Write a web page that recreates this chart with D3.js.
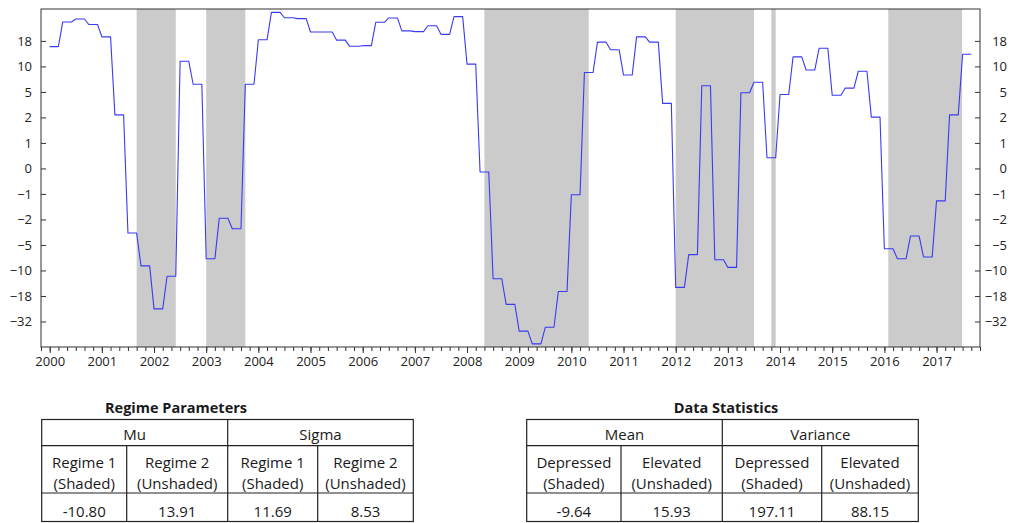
<!DOCTYPE html>
<html>
<head>
<meta charset="utf-8">
<script src="https://cdn.jsdelivr.net/npm/d3@7"></script>
<style>
  body { margin: 0; background: #fff; }
  svg { font-family: "Open Sans", sans-serif; }
</style>
</head>
<body>
<svg id="chart" width="1024" height="523"></svg>
<script>
// quarterly readings, first quarter of 2000 to third quarter of 2017
const startYear = 2000
const values = [
  16.2, 28.4, 30.0, 27.0,
  20.2, 2.3, -3.6, -9.1,
  -25.1, -11.8, 11.6, 6.5,
  -7.7, -1.95, -3.1, 6.5,
  18.6, 35.8, 30.7, 30.2,
  22.9, 22.9, 18.4, 16.3,
  16.5, 28.2, 30.6, 23.5,
  23.1, 26.3, 21.6, 31.3,
  10.7, -0.14, -12.6, -22.6,
  -38.8, -47.8, -36.1, -16.6,
  -1.03, 8.8, 17.6, 15.2,
  8.3, 20.2, 17.6, 3.65,
  -15.3, -6.9, 6.2, -7.9,
  -9.4, 4.9, 6.9, 0.42,
  4.7, 13.0, 9.3, 15.7,
  4.6, 5.75, 9.05, 2.03,
  -5.75, -7.7, -3.95, -7.35,
  -1.27, 2.3, 13.8
]

// shaded (depressed regime) spans, decimal years
const shadeStart = [2001.667, 2003.0, 2008.333, 2012.0, 2013.833, 2016.075]
const shadeEnd   = [2002.417, 2003.75, 2010.333, 2013.5, 2013.917, 2017.49]

const yTicks = [18, 10, 5, 2, 1, 0, -1, -2, -5, -10, -18, -32]
const yKnots = [40, 32, 18, 10, 5, 2, 1, 0, -1, -2, -5, -10, -18, -32, -50]
const yearTicks = d3.range(2000, 2018)

// tables
const regimeTitle = "Regime Parameters"
const regimeGroups = ["Mu", "Sigma"]
const regimeCols = [["Regime 1", "(Shaded)"], ["Regime 2", "(Unshaded)"], ["Regime 1", "(Shaded)"], ["Regime 2", "(Unshaded)"]]
const regimeValues = ["-10.80", "13.91", "11.69", "8.53"]

const statsTitle = "Data Statistics"
const statsGroups = ["Mean", "Variance"]
const statsCols = [["Depressed", "(Shaded)"], ["Elevated", "(Unshaded)"], ["Depressed", "(Shaded)"], ["Elevated", "(Unshaded)"]]
const statsValues = ["-9.64", "15.93", "197.11", "88.15"]


const svg = d3.select("#chart")

const plot = {left: 41, right: 980, top: 9, bottom: 347}

const x = d3.scaleLinear()
    .domain([1999 + 10/12, 2017 + 10/12])
    .range([plot.left, plot.right])

// labels are evenly spaced, so map each knot to an even step
const step = (plot.bottom - plot.top) / 13.25
const y = d3.scaleLinear()
    .domain(yKnots)
    .range(yKnots.map((d, i) => plot.top + (i === 0 ? 0 : (i - 0.75) * step)))

// shaded regimes
svg.selectAll(".shade")
    .data(d3.zip(shadeStart, shadeEnd))
    .join("rect")
    .attr("class", "shade")
    .attr("x", d => x(d[0]))
    .attr("width", d => x(d[1]) - x(d[0]))
    .attr("y", plot.top)
    .attr("height", plot.bottom - plot.top)
    .attr("fill", "#cbcbcb")

// each quarter is held flat for two months, then steps to the next
const pts = values.flatMap((v, i) => {
    const t = startYear + i / 4
    return [[t, v], [t + 2/12, v]]
})

const line = d3.line()
    .x(d => x(d[0]))
    .y(d => y(d[1]))

svg.append("path")
    .datum(pts)
    .attr("d", line)
    .attr("fill", "none")
    .attr("stroke", "#3a3af5")
    .attr("stroke-width", 1.1)
    .attr("stroke-linejoin", "round")

// frame
svg.append("rect")
    .attr("x", plot.left).attr("y", plot.top)
    .attr("width", plot.right - plot.left)
    .attr("height", plot.bottom - plot.top)
    .attr("fill", "none")
    .attr("stroke", "#333")

// x axis: year labels + bimonthly minor ticks
const minor = d3.range(0, 109).map(i => 1999 + 10/12 + i / 6)
svg.append("g")
    .attr("transform", `translate(0, ${plot.bottom})`)
    .call(d3.axisBottom(x).tickValues(minor).tickSize(4).tickFormat(""))
    .call(g => g.select(".domain").remove())

svg.append("g")
    .attr("class", "xaxis")
    .attr("transform", `translate(0, ${plot.bottom})`)
    .call(d3.axisBottom(x).tickValues(yearTicks).tickFormat(d3.format("d"))
        .tickSizeInner(6).tickSizeOuter(0).tickPadding(4))
    .call(g => g.select(".domain").remove())

// y axes, inward ticks
svg.append("g")
    .attr("class", "yaxis")
    .attr("transform", `translate(${plot.left}, 0)`)
    .call(d3.axisLeft(y).tickValues(yTicks).tickSizeInner(-5).tickSizeOuter(0).tickPadding(9))
    .call(g => g.select(".domain").remove())

svg.append("g")
    .attr("class", "yaxis")
    .attr("transform", `translate(${plot.right}, 0)`)
    .call(d3.axisRight(y).tickValues(yTicks).tickSizeInner(-5).tickSizeOuter(0).tickPadding(27))
    .call(g => g.select(".domain").remove())
    .call(g => g.selectAll("text").attr("text-anchor", "end"))

svg.selectAll(".xaxis text, .yaxis text")
    .attr("font-size", 13)
    .attr("font-family", "Open Sans")
    .attr("fill", "#222")
svg.selectAll(".tick line").attr("stroke", "#333")


function drawTable(title, titleX, colX, groups, cols, vals) {
    const rowY = [419.5, 445.7, 493, 521.5]
    const g = svg.append("g")
        .attr("font-size", 15)
        .attr("fill", "#1a1a1a")
        .attr("text-anchor", "middle")

    g.append("text")
        .attr("x", titleX).attr("y", 413)
        .attr("font-weight", "bold")
        .attr("font-size", 14.5)
        .text(title)

    // borders
    g.append("rect")
        .attr("x", colX[0]).attr("y", rowY[0])
        .attr("width", colX[4] - colX[0]).attr("height", rowY[3] - rowY[0])
        .attr("fill", "none").attr("stroke", "#222").attr("stroke-width", 1.2)
    g.append("line")
        .attr("x1", colX[0]).attr("x2", colX[4])
        .attr("y1", rowY[1]).attr("y2", rowY[1])
        .attr("stroke", "#222").attr("stroke-width", 1.2)
    g.append("line")
        .attr("x1", colX[0]).attr("x2", colX[4])
        .attr("y1", rowY[2]).attr("y2", rowY[2])
        .attr("stroke", "#222").attr("stroke-width", 1.2)
    colX.slice(1, 4).forEach((cx, i) => {
        g.append("line")
            .attr("x1", cx).attr("x2", cx)
            .attr("y1", i === 1 ? rowY[0] : rowY[1]).attr("y2", rowY[3])
            .attr("stroke", "#222").attr("stroke-width", 1.2)
    })

    groups.forEach((name, i) => {
        g.append("text")
            .attr("x", (colX[i * 2] + colX[i * 2 + 2]) / 2)
            .attr("y", 440)
            .text(name)
    })
    cols.forEach((c, i) => {
        const cx = (colX[i] + colX[i + 1]) / 2
        g.append("text").attr("x", cx).attr("y", 468).text(c[0])
        g.append("text").attr("x", cx).attr("y", 488.5).text(c[1])
        g.append("text").attr("x", cx).attr("y", 516.5).text(vals[i])
    })
}

drawTable(regimeTitle, 176, [41.7, 126.7, 227.7, 317.7, 413.3], regimeGroups, regimeCols, regimeValues)
drawTable(statsTitle, 726, [526.7, 621, 722.3, 821.7, 918.3], statsGroups, statsCols, statsValues)
</script>
</body>
</html>
